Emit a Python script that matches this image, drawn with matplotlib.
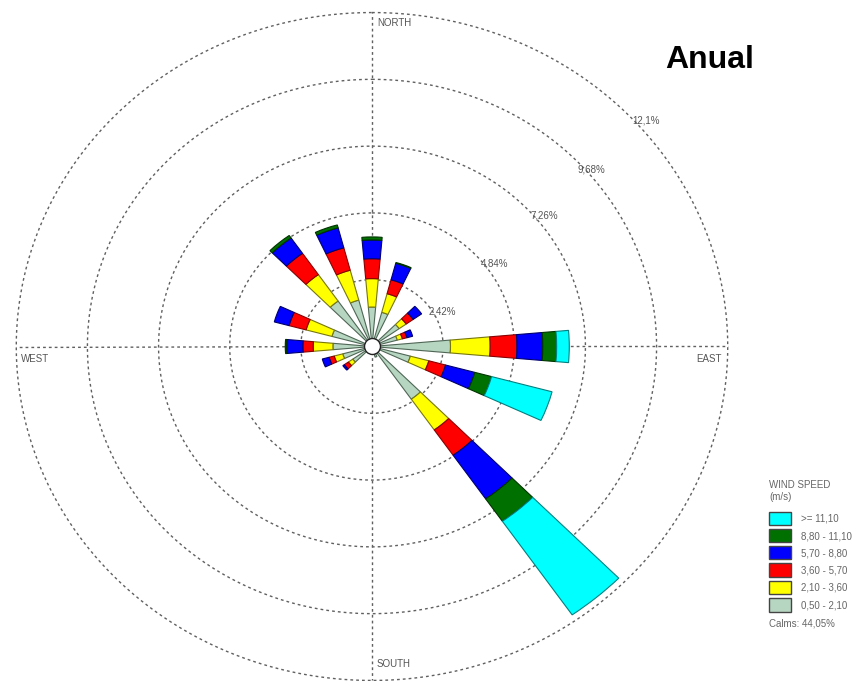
import numpy as np
import matplotlib
matplotlib.use('Agg')
import matplotlib.pyplot as plt
from matplotlib.patches import Rectangle

plt.rcParams['font.family'] = ['Liberation Sans', 'DejaVu Sans']

# direcciones (grados desde el norte) y frecuencias (%) por clase de velocidad
directions = [0, 20, 50, 70, 90, 110, 140, 160, 230, 250, 270, 290, 320, 340]
spd_050_210 = [1.43, 1.28, 1.13, 0.89, 2.67, 1.35, 2.33, 0.40, 0.80, 1.03, 1.33, 1.41, 2.01, 1.74]
spd_210_360 = [1.03, 0.70, 0.29, 0.18, 1.35, 0.65, 1.36, 0.00, 0.18, 0.30, 0.67, 0.91, 1.17, 1.12]
spd_360_570 = [0.72, 0.52, 0.29, 0.16, 0.91, 0.59, 1.12, 0.00, 0.17, 0.18, 0.35, 0.60, 0.94, 0.84]
spd_570_880 = [0.68, 0.62, 0.35, 0.20, 0.88, 1.03, 1.93, 0.00, 0.06, 0.24, 0.56, 0.52, 0.68, 0.75]
spd_880_1110 = [0.11, 0.03, 0.00, 0.00, 0.47, 0.59, 0.99, 0.00, 0.00, 0.00, 0.04, 0.00, 0.11, 0.11]
spd_1110_up = [0.00, 0.00, 0.00, 0.00, 0.43, 2.13, 4.14, 0.00, 0.00, 0.00, 0.00, 0.00, 0.00, 0.00]

classes = ['0,50 - 2,10', '2,10 - 3,60', '3,60 - 5,70', '5,70 - 8,80', '8,80 - 11,10', '>= 11,10']
colors = ['#b7d6c1', '#ffff00', '#ff0000', '#0000ff', '#007000', '#00ffff']
edges = ['#4f6656', '#77770a', '#8a0000', '#00006e', '#003300', '#008080']

rings = [2.42, 4.84, 7.26, 9.68, 12.1]
ring_labels = ['2,42%', '4,84%', '7,26%', '9,68%', '12,1%']
calms = '44,05%'

W, H = 856, 681


def fx(px):
    return px / W


def fy(py):
    return 1 - py / H


fig = plt.figure(figsize=(W / 100, H / 100), dpi=100)

# la rosa original esta un poco estirada en horizontal
rmax = 12.5
cx, cy = 372, 346.5
sx, sy = 29.4, 27.6
ax = fig.add_axes([fx(cx - rmax * sx), fy(cy + rmax * sy),
                   2 * rmax * sx / W, 2 * rmax * sy / H], projection='polar')
ax.set_aspect('auto')
ax.set_theta_zero_location('N')
ax.set_theta_direction(-1)
ax.spines['polar'].set_visible(False)
ax.set_xticks([])
ax.set_yticks([])
ax.grid(False)
ax.patch.set_alpha(0)

# rejilla punteada
t = np.linspace(0, 2 * np.pi, 721)
for r in rings:
    ax.plot(t, np.full_like(t, r), color='#606060', lw=1.0, ls=(0, (2, 2.2)), zorder=0)
for a in [0, 90, 180, 270]:
    ax.plot([np.deg2rad(a)] * 2, [0, rings[-1]], color='#606060', lw=1.0, ls=(0, (2, 2.2)), zorder=0)

theta = np.deg2rad(directions)
series = [spd_050_210, spd_210_360, spd_360_570, spd_570_880, spd_880_1110, spd_1110_up]
bottom = np.zeros(len(directions))
for vals, c, e in zip(series, colors, edges):
    vals = np.array(vals)
    m = vals > 0
    ax.bar(theta[m], vals[m], width=np.deg2rad(10), bottom=bottom[m],
           color=c, edgecolor=e, linewidth=0.8, zorder=2)
    bottom = bottom + vals

# circulo de calmas
ax.plot(0, 0, 'o', ms=11.5, mfc='white', mec='#222222', mew=1.0, zorder=5, clip_on=False)

ax.set_ylim(0, rmax)

# etiquetas de los anillos
lab_pos = [(62, 2.72), (54.3, 5.13), (51.1, 7.54), (49.3, 9.84), (48.8, 12.41)]
for (a, r), s in zip(lab_pos, ring_labels):
    ax.text(np.deg2rad(a), r, s, ha='center', va='center', fontsize=7, color='#555555')

fig.text(fx(377), fy(26), 'NORTH', ha='left', va='baseline', fontsize=7, color='#555555')
fig.text(fx(21), fy(362), 'WEST', ha='left', va='baseline', fontsize=7, color='#555555')
fig.text(fx(722), fy(362), 'EAST', ha='right', va='baseline', fontsize=7, color='#555555')
fig.text(fx(377), fy(667), 'SOUTH', ha='left', va='baseline', fontsize=7, color='#555555')

fig.text(fx(710), fy(68), 'Anual', ha='center', va='baseline', fontsize=23, fontweight='bold')

# leyenda
fig.text(fx(769), fy(488.5), 'WIND SPEED', ha='left', va='baseline', fontsize=7, color='#666666')
fig.text(fx(769), fy(500), '(m/s)', ha='left', va='baseline', fontsize=7, color='#666666')
ys = [605, 587.3, 570, 552.7, 535.7, 518.3]
for y, c, s in zip(ys, colors, classes):
    fig.add_artist(Rectangle((fx(768.7), fy(y + 6.6)), 22.7 / W, 13.3 / H,
                             transform=fig.transFigure, facecolor=c,
                             edgecolor='#444444', linewidth=1.0))
    fig.text(fx(800.7), fy(y + 3.5), s, ha='left', va='baseline', fontsize=7, color='#666666')
fig.text(fx(769), fy(627), 'Calms: ' + calms, ha='left', va='baseline', fontsize=7, color='#666666')

fig.savefig('out.png', dpi=100)
